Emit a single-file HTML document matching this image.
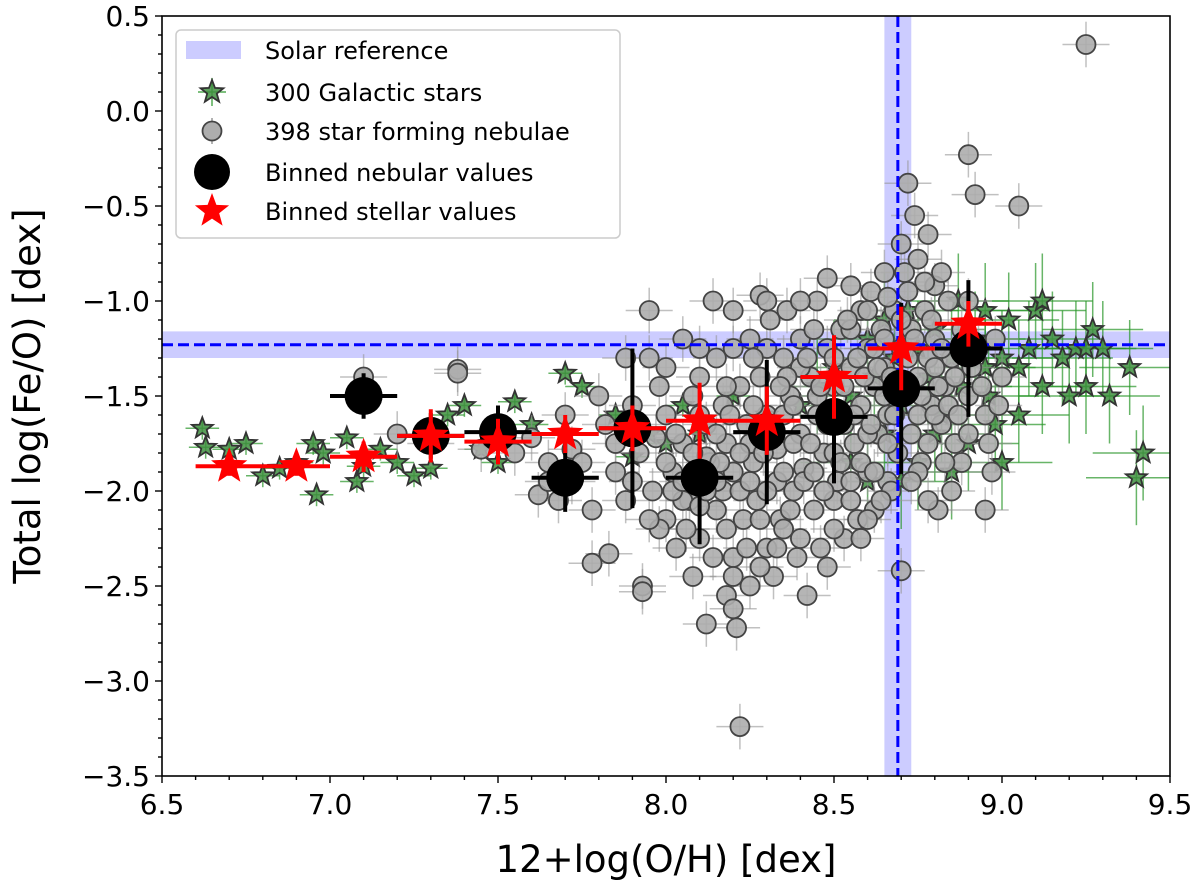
<!DOCTYPE html>
<html><head><meta charset="utf-8"><style>
html,body{margin:0;padding:0;background:#fff;}
svg{display:block;font-family:"DejaVu Sans","Liberation Sans",sans-serif;}
</style></head><body>
<svg id="chart" width="1200" height="887" viewBox="0 0 1200 887">
<defs><clipPath id="clip"><rect x="162" y="16" width="1008" height="760"/></clipPath></defs>
<g id="plot" clip-path="url(#clip)"></g>
<g id="axes"></g>
<g id="legend"></g>
</svg>
<script>
const xTicks=[6.5,7.0,7.5,8.0,8.5,9.0,9.5];
const yTicks=[0.5,0.0,-0.5,-1.0,-1.5,-2.0,-2.5,-3.0,-3.5];
const solarOH=8.69, solarOHerr=0.04;
const solarFeO=-1.23, solarFeOerr=0.07;
const nebulae=[[7.1,-1.40],[7.2,-1.70],[7.38,-1.36],[7.38,-1.38],[7.3,-1.75],[7.45,-1.78],[7.55,-1.80],[7.6,-1.72],[7.62,-2.02],[7.65,-1.95],[7.68,-2.05],[7.7,-1.6],[7.72,-1.78],[7.75,-1.85],[7.78,-2.1],[7.78,-2.38],[7.83,-2.33],[7.8,-1.5],[7.82,-1.65],[7.85,-1.9],[7.88,-1.3],[7.9,-1.55],[7.92,-1.8],[7.93,-2.5],[7.93,-2.53],[7.95,-1.05],[7.96,-2.0],[7.97,-1.72],[7.98,-1.45],
[8.0,-1.35],[8.0,-1.6],[8.0,-2.15],[8.02,-1.9],[8.03,-2.3],[8.05,-1.2],[8.05,-1.75],[8.07,-2.05],[8.08,-1.5],[8.08,-2.45],[8.1,-2.25],[8.1,-1.4],[8.12,-1.65],[8.12,-2.7],[8.13,-1.85],[8.14,-1.0],[8.15,-2.1],[8.15,-1.3],[8.17,-2.0],[8.17,-1.55],[8.18,-2.55],[8.18,-1.75],[8.2,-1.05],[8.2,-2.35],[8.2,-2.62],[8.2,-1.9],[8.21,-2.72],[8.22,-1.45],[8.22,-3.24],[8.23,-2.15],[8.24,-1.65],[8.25,-1.2],[8.25,-2.5],[8.26,-1.85],[8.27,-2.05],[8.28,-0.97],[8.28,-1.4],[8.3,-2.3],[8.3,-1.6],[8.31,-1.1],[8.32,-2.45],[8.33,-1.78],[8.33,-1.95],[8.34,-2.15],[8.35,-1.3],[8.36,-1.05],[8.37,-1.5],[8.38,-2.0],[8.39,-2.35],[8.4,-1.2],[8.4,-1.7],[8.41,-1.88],[8.42,-2.55],[8.43,-1.4],[8.44,-2.1],[8.45,-1.0],[8.45,-1.6],[8.46,-2.3],[8.47,-1.8],[8.48,-1.25],[8.48,-0.88],[8.5,-1.45],[8.5,-2.05],[8.51,-1.95],[8.52,-1.15],[8.53,-1.65],[8.53,-2.25],[8.55,-0.92],[8.55,-1.35],[8.56,-1.75],[8.57,-2.15],[8.58,-1.05],[8.58,-1.55],[8.6,-1.25],[8.6,-1.9],[8.61,-0.95],[8.62,-2.1],[8.62,-1.45],[8.63,-1.7],[8.64,-1.15],[8.65,-0.85],[8.65,-1.35],[8.66,-1.95],[8.66,-1.6],[8.67,-2.0],[8.68,-1.05],[8.69,-1.8],[8.7,-1.25],[8.7,-0.7],[8.7,-2.42],[8.71,-1.5],[8.72,-0.38],[8.72,-0.95],[8.73,-1.7],[8.73,-1.15],[8.74,-0.55],[8.75,-1.4],[8.75,-0.78],[8.76,-1.85],[8.77,-1.05],[8.78,-0.65],[8.78,-1.3],[8.79,-1.55],[8.8,-0.92],[8.8,-1.2],[8.81,-2.1],[8.82,-1.65],[8.83,-1.45],[8.84,-1.0],[8.85,-1.3],[8.86,-1.75],[8.88,-1.15],[8.9,-1.5],[8.9,-0.23],[8.92,-0.44],[8.93,-1.25],[8.95,-1.6],[8.97,-1.9],[9.0,-1.4],[9.05,-0.5],[9.25,0.35],[8.05,-2.05],[8.15,-1.95],[8.35,-2.2],[8.55,-2.05],[8.6,-2.15],[8.25,-1.75],[8.45,-1.5],[8.35,-1.6],[8.28,-2.4],[8.2,-2.45],[8.1,-2.08],[7.98,-2.2],[8.5,-1.8],[8.6,-1.7],[8.65,-1.5],[8.75,-1.6],[8.8,-1.35],[8.7,-1.1],[8.62,-1.25],[8.55,-1.15],[8.4,-1.35],[8.3,-1.25],[8.48,-2.4],[8.58,-2.25],[8.12,-1.82],[8.38,-1.75],[8.88,-1.85],[8.85,-2.0],[8.78,-2.05],[8.95,-2.1],[8.98,-1.2],[8.9,-1.0],[8.82,-0.85],[8.66,-0.98],[8.75,-1.9],
[7.65,-1.85],[7.72,-1.95],[7.85,-1.75],[7.88,-2.05],[7.9,-1.95],[7.92,-1.65],[7.95,-2.15],[8.0,-1.85],[8.02,-2.0],[8.03,-1.7],[8.05,-1.95],[8.06,-2.2],[8.08,-1.8],[8.1,-1.6],[8.12,-2.0],[8.14,-2.35],[8.15,-1.7],[8.16,-1.85],[8.18,-2.2],[8.19,-1.6],[8.22,-2.0],[8.22,-1.8],[8.24,-2.3],[8.25,-1.95],[8.26,-1.55],[8.28,-2.15],[8.29,-1.8],[8.3,-2.0],[8.32,-1.7],[8.33,-2.3],[8.35,-1.9],[8.36,-1.4],[8.37,-2.1],[8.38,-1.55],[8.4,-2.25],[8.41,-1.95],[8.42,-1.3],[8.43,-1.75],[8.44,-1.9],[8.46,-1.45],[8.47,-2.0],[8.48,-1.65],[8.5,-1.3],[8.5,-2.2],[8.52,-1.85],[8.53,-1.45],[8.54,-1.1],[8.55,-1.95],[8.56,-1.6],[8.57,-1.3],[8.58,-1.85],[8.59,-1.4],[8.6,-1.05],[8.61,-1.65],[8.62,-1.9],[8.63,-1.35],[8.64,-2.05],[8.65,-1.2],[8.66,-1.75],[8.67,-1.4],[8.68,-1.6],[8.71,-0.85],[8.72,-1.3],[8.73,-1.95],[8.74,-1.2],[8.76,-1.5],[8.77,-0.9],[8.78,-1.75],[8.79,-1.1],[8.8,-1.6],[8.81,-1.45],[8.82,-1.25],[8.83,-1.85],[8.84,-1.55],[8.86,-1.4],[8.87,-1.6],[8.88,-1.25],[8.9,-1.7],[8.91,-1.35],[8.94,-1.45],[8.96,-1.75],[8.99,-1.55],[8.18,-1.45],[8.26,-1.3],[8.34,-1.45],[8.44,-1.15],[8.4,-1.0],[8.3,-1.0],[8.2,-1.25],[8.1,-1.25],[7.95,-1.3]];
const stars=[[6.62,-1.67],[6.63,-1.77],[6.7,-1.78],[6.75,-1.75],[6.8,-1.92],[6.85,-1.88],[6.9,-1.85],[6.95,-1.75],[6.96,-2.02],[6.98,-1.8],[7.05,-1.72],[7.08,-1.95],[7.1,-1.87],[7.15,-1.78],[7.2,-1.85],[7.25,-1.92],[7.3,-1.88],[7.35,-1.6],[7.4,-1.55],[7.45,-1.78],[7.5,-1.85],[7.55,-1.53],[7.6,-1.65],[7.7,-1.38],[7.75,-1.45],[7.85,-1.6],[7.9,-1.82],[7.95,-1.7],[8.0,-1.75],[8.05,-1.55],[8.1,-1.7],[8.2,-1.5],[8.3,-1.6],[8.4,-1.55],[8.45,-1.45],[8.5,-1.35],[8.55,-1.5],[8.6,-1.2],[8.62,-1.4],[8.65,-1.1],[8.68,-1.3],[8.7,-1.55],[8.72,-1.05],[8.75,-1.25],[8.78,-1.4],[8.8,-1.15],[8.82,-1.6],[8.85,-1.3],[8.87,-1.0],[8.88,-1.45],[8.9,-1.75],[8.92,-1.2],[8.95,-1.05],[8.96,-1.5],[8.98,-1.65],[9.0,-1.3],[9.02,-1.1],[9.05,-1.6],[9.08,-1.25],[9.1,-1.05],[9.12,-1.45],[9.15,-1.2],[9.18,-1.3],[9.2,-1.5],[9.22,-1.25],[9.25,-1.45],[9.27,-1.15],[9.3,-1.25],[9.32,-1.5],[9.38,-1.35],[9.4,-1.93],[9.42,-1.8],[8.55,-1.85],[8.6,-1.95],[8.65,-1.7],[8.75,-1.85],[8.85,-1.9],[9.0,-1.85],[8.7,-1.95],[8.8,-1.7],[9.12,-1.0],[9.05,-1.35],[8.95,-1.35],[9.25,-1.25]];
const binNebX=[7.1,7.3,7.5,7.7,7.9,8.1,8.3,8.5,8.7,8.9];
const binNebY=[-1.50,-1.71,-1.69,-1.93,-1.67,-1.93,-1.69,-1.61,-1.46,-1.25];
const binNebYerr=[0.12,0.12,0.14,0.18,0.42,0.35,0.38,0.35,0.45,0.36];
const binStarX=[6.7,6.9,7.1,7.3,7.5,7.7,7.9,8.1,8.3,8.5,8.7,8.9];
const binStarY=[-1.87,-1.87,-1.82,-1.71,-1.74,-1.70,-1.67,-1.63,-1.63,-1.40,-1.25,-1.12];
const binStarYerr=[0.05,0.05,0.08,0.14,0.12,0.10,0.12,0.20,0.18,0.22,0.22,0.12];
const BIN_XERR=0.1;

const X0=162,X1=1170,Y0=776,Y1=16;
const sx=v=>X0+(v-6.5)/3*(X1-X0);
const sy=v=>Y0+(v+3.5)/4*(Y1-Y0);
const NS='http://www.w3.org/2000/svg';
function mk(tag,attrs,parent){const e=document.createElementNS(NS,tag);for(const k in attrs)e.setAttribute(k,attrs[k]);parent.appendChild(e);return e;}
function starPts(cx,cy,R){const r=R*0.42;let p=[];for(let i=0;i<10;i++){const a=-Math.PI/2+i*Math.PI/5;const rr=i%2?r:R;p.push((cx+rr*Math.cos(a)).toFixed(1)+','+(cy+rr*Math.sin(a)).toFixed(1));}return p.join(' ');}
const plot=document.getElementById('plot'),axes=document.getElementById('axes'),leg=document.getElementById('legend');

let b=mk('rect',{x:X0,y:sy(solarFeO+solarFeOerr),width:X1-X0,height:sy(solarFeO-solarFeOerr)-sy(solarFeO+solarFeOerr),fill:'rgba(0,0,255,0.2)'},plot);


b=mk('rect',{x:sx(solarOH-solarOHerr),y:Y1,width:sx(solarOH+solarOHerr)-sx(solarOH-solarOHerr),height:Y0-Y1,fill:'rgba(0,0,255,0.2)'},plot);



const gS=mk('g',{},plot);


stars.forEach(([x,y])=>{const xe=x>8.4?0.15:0.05, ye=x>8.4?0.25:0.06;
 mk('line',{x1:sx(x-xe),x2:sx(x+xe),y1:sy(y),y2:sy(y),stroke:'rgba(40,150,40,0.7)','stroke-width':1.5},gS);
 mk('line',{x1:sx(x),x2:sx(x),y1:sy(y-ye),y2:sy(y+ye),stroke:'rgba(40,150,40,0.7)','stroke-width':1.5},gS);});
stars.forEach(([x,y])=>{const s=mk('polygon',{points:starPts(sx(x),sy(y),11),fill:'#3f8f3f','fill-opacity':0.85,stroke:'#333','stroke-width':1.8},gS);
 
 });

const gN=mk('g',{},plot);


nebulae.forEach(([x,y])=>{
 mk('line',{x1:sx(x-0.07),x2:sx(x+0.07),y1:sy(y),y2:sy(y),stroke:'rgba(150,150,150,0.6)','stroke-width':1.5},gN);
 mk('line',{x1:sx(x),x2:sx(x),y1:sy(y-0.12),y2:sy(y+0.12),stroke:'rgba(150,150,150,0.6)','stroke-width':1.5},gN);});
nebulae.forEach(([x,y])=>{const c=mk('circle',{cx:sx(x),cy:sy(y),r:9.5,fill:'#adadad','fill-opacity':0.9,stroke:'#444','stroke-width':1.8},gN);
 
 });

let l=mk('line',{x1:X0,x2:X1,y1:sy(solarFeO),y2:sy(solarFeO),stroke:'#0000ff','stroke-width':3,'stroke-dasharray':'11,5'},plot);


l=mk('line',{x1:sx(solarOH),x2:sx(solarOH),y1:Y1,y2:Y0,stroke:'#0000ff','stroke-width':3,'stroke-dasharray':'11,5'},plot);



const gB=mk('g',{},plot);


binNebX.forEach((x,i)=>{const y=binNebY[i];
 mk('line',{x1:sx(x-BIN_XERR),x2:sx(x+BIN_XERR),y1:sy(y),y2:sy(y),stroke:'#000','stroke-width':4},gB);
 mk('line',{x1:sx(x),x2:sx(x),y1:sy(y-binNebYerr[i]),y2:sy(y+binNebYerr[i]),stroke:'#000','stroke-width':4},gB);
 const c=mk('circle',{cx:sx(x),cy:sy(y),r:19,fill:'#000'},gB);
 
 });
const gR=mk('g',{},plot);


binStarX.forEach((x,i)=>{const y=binStarY[i];
 mk('line',{x1:sx(x-BIN_XERR),x2:sx(x+BIN_XERR),y1:sy(y),y2:sy(y),stroke:'#ff0000','stroke-width':4},gR);
 mk('line',{x1:sx(x),x2:sx(x),y1:sy(y-binStarYerr[i]),y2:sy(y+binStarYerr[i]),stroke:'#ff0000','stroke-width':4},gR);
 const s=mk('polygon',{points:starPts(sx(x),sy(y),19),fill:'#ff0000'},gR);
 
 });

mk('rect',{x:X0,y:Y1,width:X1-X0,height:Y0-Y1,fill:'none',stroke:'#000','stroke-width':1.6},axes);
for(let i=0;i<=30;i++){const v=6.5+i*0.1,maj=i%5==0;mk('line',{x1:sx(v),x2:sx(v),y1:Y0,y2:Y0+(maj?7:4),stroke:'#000','stroke-width':1.4},axes);}
for(let i=0;i<=40;i++){const v=-3.5+i*0.1,maj=i%5==0;mk('line',{x1:X0,x2:X0-(maj?7:4),y1:sy(v),y2:sy(v),stroke:'#000','stroke-width':1.4},axes);}
xTicks.forEach(v=>{const t=mk('text',{x:sx(v),y:Y0+38,'font-size':28,'text-anchor':'middle'},axes);t.textContent=v.toFixed(1);
 
 });
yTicks.forEach(v=>{const t=mk('text',{x:X0-12,y:sy(v)+10,'font-size':28,'text-anchor':'end'},axes);t.textContent=(v<0?'\u2212':'')+Math.abs(v).toFixed(1);
 
 });
let t=mk('text',{x:(X0+X1)/2,y:872,'font-size':37,'text-anchor':'middle'},axes);t.textContent='12+log(O/H) [dex]';


t=mk('text',{x:0,y:0,'font-size':37,'text-anchor':'middle',transform:'translate(40,396) rotate(-90)'},axes);t.textContent='Total log(Fe/O) [dex]';



mk('rect',{x:176,y:30,width:444,height:208,rx:5,fill:'rgba(255,255,255,0.85)',stroke:'#ccc','stroke-width':1.5},leg);
const lx=212, tx=265, ly=[50,92,131,172,211];
const labels=['Solar reference','300 Galactic stars','398 star forming nebulae','Binned nebular values','Binned stellar values'];
mk('rect',{x:186,y:ly[0]-9,width:55,height:18,fill:'rgba(0,0,255,0.2)'},leg);
mk('line',{x1:lx-14,x2:lx+14,y1:ly[1],y2:ly[1],stroke:'rgba(40,150,40,0.8)','stroke-width':1.5},leg);
mk('line',{x1:lx,x2:lx,y1:ly[1]-14,y2:ly[1]+14,stroke:'rgba(40,150,40,0.8)','stroke-width':1.5},leg);
mk('polygon',{points:starPts(lx,ly[1],12),fill:'#3f8f3f','fill-opacity':0.85,stroke:'#333','stroke-width':1.8},leg);
mk('line',{x1:lx,x2:lx,y1:ly[2]-13,y2:ly[2]+13,stroke:'#999','stroke-width':1.5},leg);
mk('circle',{cx:lx,cy:ly[2],r:9.5,fill:'#adadad',stroke:'#444','stroke-width':1.8},leg);
mk('circle',{cx:lx,cy:ly[3],r:18,fill:'#000'},leg);
mk('polygon',{points:starPts(lx,ly[4],18),fill:'#ff0000'},leg);
labels.forEach((s,i)=>{const e=mk('text',{x:tx,y:ly[i]+9,'font-size':24},leg);e.textContent=s;
 
 });
</script>
</body></html>
